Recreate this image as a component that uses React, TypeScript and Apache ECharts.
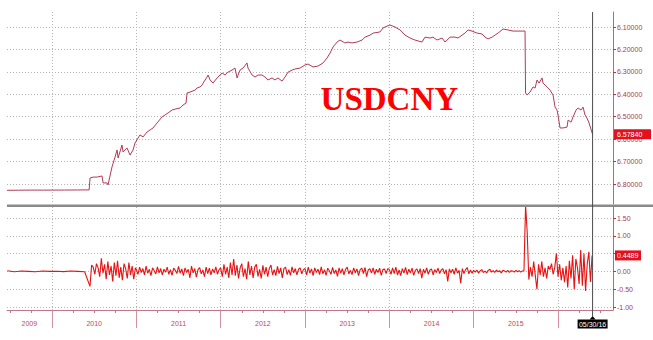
import React, { useEffect, useRef } from "react";
import * as echarts from "echarts";

const X_MIN = 2009.466;
const X_MAX = 2016.652;
const CURSOR_X = 2016.41;
const CURSOR_LABEL = "05/30/16";
const TITLE = "USDCNY";

const yearTicks = [2010, 2011, 2012, 2013, 2014, 2015, 2016];
const yearLabelPositions = [2009.73, 2010.5, 2011.5, 2012.5, 2013.5, 2014.5, 2015.5];
const quarterTicks = [
  2009.5, 2009.75, 2010.25, 2010.5, 2010.75, 2011.25, 2011.5, 2011.75, 2012.25, 2012.5, 2012.75,
  2013.25, 2013.5, 2013.75, 2014.25, 2014.5, 2014.75, 2015.25, 2015.5, 2015.75, 2016.25, 2016.5,
];

const upperTicks = [6.1, 6.2, 6.3, 6.4, 6.5, 6.6, 6.7, 6.8];
const lowerTicks = [-1, -0.5, 0, 0.5, 1, 1.5];
const lowerTickLabels = [-1, -0.5, 0, 1, 1.5];
const UPPER_MIN = 6.033;
const UPPER_MAX = 6.889;
const LOWER_MIN = -1.084;
const LOWER_MAX = 1.809;
const LAST_RATE = 6.5784;
const LAST_CHANGE = 0.4489;

// USDCNY level: [fractional year, rate]
const rate2009_10: [number, number][] = [
  [2009.466, 6.828], [2009.6, 6.8275], [2009.75, 6.827], [2009.9, 6.8272], [2010.0, 6.827],
  [2010.15, 6.8268], [2010.3, 6.8265], [2010.44, 6.8262], [2010.451, 6.773], [2010.486, 6.769],
  [2010.534, 6.769], [2010.593, 6.764], [2010.605, 6.795], [2010.652, 6.795], [2010.664, 6.804],
  [2010.711, 6.724], [2010.747, 6.68], [2010.771, 6.648], [2010.783, 6.684], [2010.83, 6.626],
  [2010.842, 6.657], [2010.889, 6.639], [2010.925, 6.671], [2010.961, 6.648], [2010.984, 6.617],
];
const rate2011: [number, number][] = [
  [2011.02, 6.595], [2011.043, 6.581], [2011.079, 6.59], [2011.127, 6.568], [2011.162, 6.559],
  [2011.198, 6.55], [2011.245, 6.528], [2011.304, 6.501], [2011.34, 6.492], [2011.376, 6.483],
  [2011.423, 6.47], [2011.459, 6.466], [2011.518, 6.461], [2011.553, 6.448], [2011.589, 6.439],
  [2011.601, 6.394], [2011.636, 6.39], [2011.696, 6.381], [2011.719, 6.372], [2011.755, 6.367],
  [2011.779, 6.359], [2011.791, 6.35], [2011.838, 6.323], [2011.85, 6.314], [2011.874, 6.336],
  [2011.909, 6.35], [2011.957, 6.327], [2011.992, 6.314],
];
const rate2012: [number, number][] = [
  [2012.016, 6.305], [2012.052, 6.314], [2012.087, 6.301], [2012.134, 6.292], [2012.17, 6.283],
  [2012.194, 6.327], [2012.229, 6.292], [2012.265, 6.283], [2012.312, 6.26], [2012.324, 6.283],
  [2012.372, 6.314], [2012.407, 6.323], [2012.443, 6.314], [2012.49, 6.314], [2012.526, 6.323],
  [2012.561, 6.336], [2012.609, 6.327], [2012.644, 6.336], [2012.68, 6.327], [2012.727, 6.341],
  [2012.763, 6.323], [2012.799, 6.301], [2012.846, 6.292], [2012.882, 6.287], [2012.941, 6.283],
];
const rate2013: [number, number][] = [
  [2013.0, 6.269], [2013.036, 6.265], [2013.095, 6.278], [2013.154, 6.274], [2013.214, 6.26],
  [2013.261, 6.238], [2013.297, 6.216], [2013.332, 6.189], [2013.38, 6.167], [2013.415, 6.158],
  [2013.474, 6.171], [2013.51, 6.167], [2013.557, 6.171], [2013.617, 6.167], [2013.676, 6.158],
  [2013.712, 6.145], [2013.771, 6.136], [2013.807, 6.127], [2013.889, 6.122], [2013.925, 6.104],
  [2013.972, 6.096],
];
const rate2014: [number, number][] = [
  [2014.008, 6.091], [2014.067, 6.1], [2014.127, 6.113], [2014.186, 6.136], [2014.245, 6.149],
  [2014.304, 6.158], [2014.387, 6.167], [2014.423, 6.145], [2014.482, 6.149], [2014.518, 6.145],
  [2014.565, 6.158], [2014.625, 6.149], [2014.66, 6.167], [2014.72, 6.145], [2014.779, 6.145],
  [2014.814, 6.149], [2014.862, 6.136], [2014.897, 6.127], [2014.933, 6.113], [2014.98, 6.118],
];
const rate2015: [number, number][] = [
  [2015.04, 6.127], [2015.099, 6.131], [2015.135, 6.145], [2015.17, 6.153], [2015.218, 6.145],
  [2015.253, 6.136], [2015.289, 6.127], [2015.348, 6.109], [2015.407, 6.113], [2015.467, 6.118],
  [2015.526, 6.118], [2015.585, 6.118], [2015.609, 6.118], [2015.615, 6.394], [2015.633, 6.403],
  [2015.668, 6.39], [2015.704, 6.367], [2015.728, 6.372], [2015.751, 6.336], [2015.775, 6.35],
  [2015.811, 6.327], [2015.822, 6.35], [2015.87, 6.367], [2015.905, 6.381], [2015.941, 6.403],
  [2015.965, 6.457], [2015.988, 6.47],
];
const rate2016: [number, number][] = [
  [2016.0, 6.492], [2016.024, 6.55], [2016.06, 6.55], [2016.107, 6.546], [2016.119, 6.515],
  [2016.155, 6.524], [2016.178, 6.501], [2016.214, 6.47], [2016.238, 6.461], [2016.273, 6.47],
  [2016.297, 6.457], [2016.32, 6.492], [2016.344, 6.506], [2016.368, 6.528], [2016.41, 6.5784],
];

// Weekly % change, each segment starts at `start` and steps by `step` years
const chg2009 = [0.02, -0.01, 0.01, 0, -0.01, 0.01, 0, 0.005, -0.005, 0.01, 0, -0.01];
const chg2010 = [
  -0.42, 0.18, 0.12, -0.08, 0.22, 0.1, -0.15, 0.37, -0.05, 0.2, -0.22, 0.28, -0.1, 0.15, -0.28,
  0.25, -0.12, 0.3, -0.18, 0.12, -0.25, 0.22, 0.08, -0.2, 0.25, -0.1, 0.15, -0.22, 0.1,
];
const chg2011 = [
  0.05, -0.08, 0.12, -0.03, 0.08, -0.1, 0.15, -0.05, 0.06, -0.12,
  0.1, 0.02, -0.07, 0.13, -0.04, 0.08, -0.1, 0.06, -0.02, 0.12,
  -0.08, 0.05, -0.11, 0.09, 0.03, -0.06, 0.14, -0.05, 0.07, -0.12,
  0.1, -0.03, 0.06, -0.18, 0.15, -0.04, 0.08, -0.16, 0.05, 0.11,
  -0.07, 0.04, -0.15, 0.12, -0.06, 0.09, -0.1, 0.07, -0.04, 0.13,
  -0.08, 0.05,
];
const chg2012 = [
  0.1, -0.15, 0.2, -0.08, 0.12, -0.18, 0.25, -0.1, 0.35, -0.12,
  0.18, -0.2, 0.1, 0.22, -0.15, 0.08, -0.22, 0.28, -0.1, 0.15,
  -0.18, 0.12, 0.2, -0.14, 0.06, -0.2, 0.17, -0.08, 0.12, -0.15,
  0.09, 0.18, -0.1, 0.05, -0.12, 0.14, -0.06, 0.1, -0.18, 0.08,
  0.12, -0.09, 0.05, -0.11, 0.13, -0.04, 0.08, -0.1, 0.06, 0.1,
  -0.07, 0.05,
];
const chg2013 = [
  0.08, -0.1, 0.12, -0.05, 0.07, -0.12, 0.1, -0.03, 0.06, -0.09,
  0.13, -0.07, 0.05, -0.11, 0.09, 0.02, -0.08, 0.11, -0.06, 0.04,
  -0.14, 0.1, -0.05, 0.08, -0.1, 0.06, 0.12, -0.07, 0.03, -0.09,
  0.1, -0.04, 0.07, -0.12, 0.05, 0.09, -0.06, 0.11, -0.15, 0.04,
  0.08, -0.05, 0.1, -0.08, 0.06, -0.03, 0.09, -0.11, 0.05, 0.07,
  -0.06, 0.08,
];
const chg2014 = [
  0.05, -0.08, 0.1, -0.06, 0.12, -0.1, 0.04, -0.12, 0.08, -0.05,
  0.11, -0.09, 0.06, -0.04, 0.09, -0.11, 0.03, 0.07, -0.06, 0.08,
  -0.19, 0.06, -0.05, 0.1, -0.08, 0.04, 0.07, -0.1, 0.05, -0.03,
  0.09, -0.06, 0.04, 0.08, -0.07, 0.05, -0.28, 0.07, -0.04, 0.06,
  -0.08, 0.1, -0.05, 0.03, -0.33, 0.08, -0.06, 0.05, 0.11, -0.07,
  0.04, -0.05,
];
const chg2015 = [
  0.03, -0.02, 0.04, -0.05, 0.02, 0.05, -0.03, 0.01, -0.04, 0.03,
  0.06, -0.02, 0.02, -0.03, 0.04, -0.01, 0.02, -0.04, 0.03, 0.01,
  -0.02, 0.03, -0.03, 0.02, 0.01, -0.02, 0.03, -0.01, 0.02, -0.02,
  0.01, 0.02,
  1.86, 1.1, -0.23, 0.12, -0.15, 0.28, -0.12, -0.5, 0.2, -0.1,
  0.28, -0.15, 0.1, -0.2, 0.15, 0.05, 0.22, -0.08, 0.12, 0.51,
];
const chg2016 = [
  -0.15, 0.2, -0.25, 0.1, -0.3, 0.15,
  -0.45, 0.3, -0.2, 0.45, -0.5, 0.35, 0.1, -0.35, 0.6, -0.4, 0.5, -0.55, 0.2, 0.55, -0.3, 0.4489,
];

const changeSegments = [
  { start: 2009.47, step: 1 / 12, values: chg2009 },
  { start: 2010.45, step: 1 / 52, values: chg2010 },
  { start: 2011.0, step: 1 / 52, values: chg2011 },
  { start: 2012.0, step: 1 / 52, values: chg2012 },
  { start: 2013.0, step: 1 / 52, values: chg2013 },
  { start: 2014.0, step: 1 / 52, values: chg2014 },
  { start: 2015.0, step: 1 / 52, values: chg2015 },
  { start: 2016.0, step: 1 / 52, values: chg2016 },
];

const GRID_LINE = { color: "#b5b5b5", type: [1, 2] as number[], width: 1 };
const AXIS_COLOR = "#c8607a";
const LABEL_COLOR = "#a83a4c";
const FONT = "Liberation Sans";

export default function App() {
  const ref = useRef<HTMLDivElement>(null);

  useEffect(() => {
    if (!ref.current) return;
    const chart = echarts.init(ref.current, null, { renderer: "svg" });

    const rateData = [
      ...rate2009_10, ...rate2011, ...rate2012, ...rate2013, ...rate2014, ...rate2015, ...rate2016,
    ];
    const changeData: [number, number][] = [];
    changeSegments.forEach((seg) =>
      seg.values.forEach((v, i) => changeData.push([seg.start + i * seg.step, v]))
    );

    chart.setOption({
      animation: false,
      grid: [
        { left: 7, right: 40, top: 12, height: 192 },
        { left: 7, right: 40, top: 207, height: 103 },
      ],
      xAxis: [
        {
          gridIndex: 0, type: "value", position: "bottom", min: X_MIN, max: X_MAX,
          axisLine: { show: false },
          axisTick: { show: false, customValues: yearTicks },
          axisLabel: { show: false },
          splitLine: { show: true, lineStyle: GRID_LINE },
        },
        {
          gridIndex: 1, type: "value", position: "bottom", min: X_MIN, max: X_MAX,
          axisLine: { show: true, onZero: false, lineStyle: { color: "#c27888", width: 1 } },
          axisTick: { show: true, customValues: yearTicks, length: 18, lineStyle: { color: "#d98ea0" } },
          axisLabel: {
            customValues: yearLabelPositions,
            formatter: (v: number) => String(Math.floor(v + 1e-6)),
            color: "#c0485e", fontSize: 7, fontFamily: FONT, margin: 10,
          },
          splitLine: { show: true, lineStyle: GRID_LINE },
        },
        {
          gridIndex: 1, type: "value", position: "bottom", offset: 0, min: X_MIN, max: X_MAX,
          axisLine: { show: false, onZero: false },
          axisTick: { show: true, customValues: quarterTicks, length: 3, lineStyle: { color: "#c27888" } },
          axisLabel: { show: false },
          splitLine: { show: false },
        },
      ],
      yAxis: [
        {
          gridIndex: 0, type: "value", position: "right", inverse: true,
          min: UPPER_MIN, max: UPPER_MAX,
          axisLine: { show: true, lineStyle: { color: AXIS_COLOR } },
          axisTick: { show: true, customValues: upperTicks, length: 3, lineStyle: { color: "#c0304c" } },
          axisLabel: {
            customValues: upperTicks, formatter: (v: number) => v.toFixed(5),
            color: LABEL_COLOR, fontSize: 7, fontFamily: FONT, margin: 4,
          },
          splitLine: { show: true, lineStyle: GRID_LINE },
        },
        {
          gridIndex: 1, type: "value", position: "right",
          min: LOWER_MIN, max: LOWER_MAX,
          axisLine: { show: true, lineStyle: { color: AXIS_COLOR } },
          axisTick: { show: true, customValues: lowerTicks, length: 3, lineStyle: { color: "#c0304c" } },
          axisLabel: {
            customValues: lowerTickLabels, formatter: (v: number) => v.toFixed(2),
            color: LABEL_COLOR, fontSize: 7, fontFamily: FONT, margin: 4,
          },
          splitLine: { show: true, lineStyle: GRID_LINE },
        },
      ],
      series: [
        {
          type: "line", xAxisIndex: 0, yAxisIndex: 0, data: rateData,
          showSymbol: false, symbol: "none",
          lineStyle: { color: "#b33a55", width: 1 },
        },
        {
          type: "line", xAxisIndex: 1, yAxisIndex: 1, data: changeData,
          showSymbol: false, symbol: "none",
          lineStyle: { color: "#e81212", width: 1.1 },
        },
      ],
    });

    const xCur = chart.convertToPixel({ xAxisIndex: 1 }, CURSOR_X) as number;
    const xAxisEnd = chart.convertToPixel({ xAxisIndex: 1 }, X_MAX) as number;
    const xAxisStart = chart.convertToPixel({ xAxisIndex: 1 }, X_MIN) as number;
    const yTop = chart.convertToPixel({ yAxisIndex: 0 }, UPPER_MIN) as number;
    const yUpperBottom = chart.convertToPixel({ yAxisIndex: 0 }, UPPER_MAX) as number;
    const yBottom = chart.convertToPixel({ yAxisIndex: 1 }, LOWER_MIN) as number;
    const yRate = chart.convertToPixel({ yAxisIndex: 0 }, LAST_RATE) as number;
    const yChg = chart.convertToPixel({ yAxisIndex: 1 }, LAST_CHANGE) as number;
    const titleX = chart.convertToPixel({ xAxisIndex: 0 }, 2014.0) as number;

    chart.setOption({
      graphic: [
        {
          type: "text", x: titleX, y: 99, z: 10,
          style: {
            text: TITLE, fill: "#ff0000", fontSize: 33, fontWeight: "bold",
            fontFamily: "Liberation Serif", align: "center", verticalAlign: "middle",
          },
        },
        {
          type: "rect", z: 20,
          shape: { x: xAxisStart, y: yUpperBottom + 0.5, width: 653 - xAxisStart, height: 2.5 },
          style: { fill: "#8a8a8a" },
        },
        {
          type: "line", z: 21,
          shape: { x1: xCur, y1: yTop, x2: xCur, y2: yBottom + 6 },
          style: { stroke: "#4a4a4a", lineWidth: 1 },
        },
        {
          type: "polygon", z: 21,
          shape: { points: [[xCur - 3, yBottom + 9.5], [xCur + 3, yBottom + 9.5], [xCur, yBottom + 6]] },
          style: { fill: "#000" },
        },
        {
          type: "rect", z: 21,
          shape: { x: xCur - 15, y: yBottom + 9.5, width: 30, height: 9 },
          style: { fill: "#000" },
        },
        {
          type: "text", z: 22, x: xCur, y: yBottom + 14,
          style: {
            text: CURSOR_LABEL, fill: "#fff", fontSize: 7, fontFamily: FONT,
            align: "center", verticalAlign: "middle",
          },
        },
        {
          type: "rect", z: 21,
          shape: { x: xAxisEnd + 1, y: yRate - 5, width: 37, height: 10 },
          style: { fill: "#e3101e" },
        },
        {
          type: "text", z: 22, x: xAxisEnd + 4, y: yRate,
          style: {
            text: LAST_RATE.toFixed(5), fill: "#fff", fontSize: 7, fontFamily: FONT,
            align: "left", verticalAlign: "middle",
          },
        },
        {
          type: "rect", z: 21,
          shape: { x: xAxisEnd + 2, y: yChg - 5, width: 26, height: 10 },
          style: { fill: "#e3101e" },
        },
        {
          type: "text", z: 22, x: xAxisEnd + 4, y: yChg,
          style: {
            text: LAST_CHANGE.toFixed(4), fill: "#fff", fontSize: 7, fontFamily: FONT,
            align: "left", verticalAlign: "middle",
          },
        },
      ],
    });

    return () => chart.dispose();
  }, []);

  return (
    <div
      ref={ref}
      style={{ position: "fixed", left: 0, top: 0, width: 653, height: 340, background: "#fff" }}
    />
  );
}
